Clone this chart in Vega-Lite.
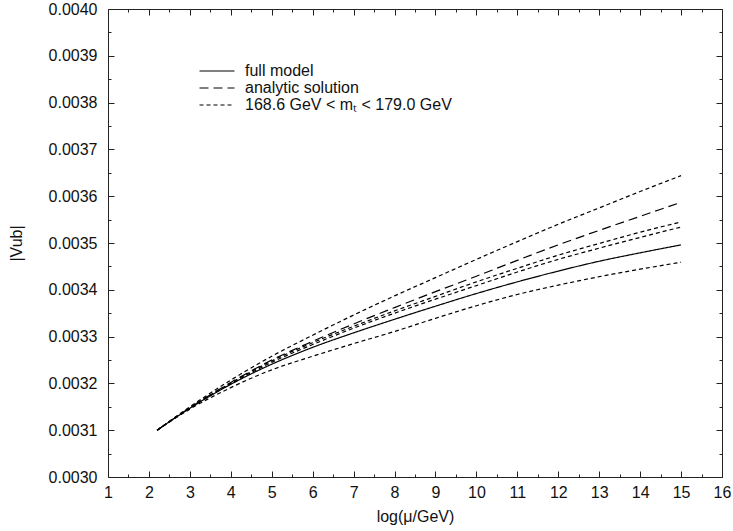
{
  "$schema": "https://vega.github.io/schema/vega-lite/v6.json",
  "width": 614,
  "height": 468,
  "autosize": {"type": "none"},
  "padding": {"left": 108, "top": 9, "right": 11, "bottom": 54},
  "background": "white",
  "config": {
    "view": {"stroke": "#222", "strokeWidth": 1},
    "font": "Liberation Sans",
    "axis": {"domain": false, "grid": false, "tickColor": "#222", "labelColor": "#111", "titleColor": "#111", "labelFont": "Liberation Sans", "titleFont": "Liberation Sans", "labelFontSize": 16, "titleFontSize": 16, "titleFontWeight": "normal", "tickWidth": 1}
  },
  "data": {"values": [
    {"c": "full", "t": "full model", "x": 2.2, "y": 0.003100},
    {"c": "full", "t": "full model", "x": 3, "y": 0.003147},
    {"c": "full", "t": "full model", "x": 4, "y": 0.003198},
    {"c": "full", "t": "full model", "x": 5, "y": 0.003241},
    {"c": "full", "t": "full model", "x": 6, "y": 0.003277},
    {"c": "full", "t": "full model", "x": 7, "y": 0.003308},
    {"c": "full", "t": "full model", "x": 8, "y": 0.003337},
    {"c": "full", "t": "full model", "x": 9, "y": 0.003365},
    {"c": "full", "t": "full model", "x": 10, "y": 0.003392},
    {"c": "full", "t": "full model", "x": 11, "y": 0.003417},
    {"c": "full", "t": "full model", "x": 12, "y": 0.003440},
    {"c": "full", "t": "full model", "x": 13, "y": 0.003461},
    {"c": "full", "t": "full model", "x": 14, "y": 0.003479},
    {"c": "full", "t": "full model", "x": 15, "y": 0.003496},
    {"c": "ana", "t": "analytic solution", "x": 2.2, "y": 0.003100},
    {"c": "ana", "t": "analytic solution", "x": 3, "y": 0.003148},
    {"c": "ana", "t": "analytic solution", "x": 4, "y": 0.003202},
    {"c": "ana", "t": "analytic solution", "x": 5, "y": 0.003250},
    {"c": "ana", "t": "analytic solution", "x": 6, "y": 0.003290},
    {"c": "ana", "t": "analytic solution", "x": 7, "y": 0.003327},
    {"c": "ana", "t": "analytic solution", "x": 8, "y": 0.003362},
    {"c": "ana", "t": "analytic solution", "x": 9, "y": 0.003396},
    {"c": "ana", "t": "analytic solution", "x": 10, "y": 0.003429},
    {"c": "ana", "t": "analytic solution", "x": 11, "y": 0.003463},
    {"c": "ana", "t": "analytic solution", "x": 12, "y": 0.003496},
    {"c": "ana", "t": "analytic solution", "x": 13, "y": 0.003527},
    {"c": "ana", "t": "analytic solution", "x": 14, "y": 0.003557},
    {"c": "ana", "t": "analytic solution", "x": 15, "y": 0.003587},
    {"c": "top", "t": "168.6 GeV < mₜ < 179.0 GeV", "x": 2.2, "y": 0.003100},
    {"c": "top", "t": "168.6 GeV < mₜ < 179.0 GeV", "x": 3, "y": 0.003150},
    {"c": "top", "t": "168.6 GeV < mₜ < 179.0 GeV", "x": 4, "y": 0.003207},
    {"c": "top", "t": "168.6 GeV < mₜ < 179.0 GeV", "x": 5, "y": 0.003258},
    {"c": "top", "t": "168.6 GeV < mₜ < 179.0 GeV", "x": 6, "y": 0.003303},
    {"c": "top", "t": "168.6 GeV < mₜ < 179.0 GeV", "x": 7, "y": 0.003346},
    {"c": "top", "t": "168.6 GeV < mₜ < 179.0 GeV", "x": 8, "y": 0.003387},
    {"c": "top", "t": "168.6 GeV < mₜ < 179.0 GeV", "x": 9, "y": 0.003426},
    {"c": "top", "t": "168.6 GeV < mₜ < 179.0 GeV", "x": 10, "y": 0.003465},
    {"c": "top", "t": "168.6 GeV < mₜ < 179.0 GeV", "x": 11, "y": 0.003503},
    {"c": "top", "t": "168.6 GeV < mₜ < 179.0 GeV", "x": 12, "y": 0.003540},
    {"c": "top", "t": "168.6 GeV < mₜ < 179.0 GeV", "x": 13, "y": 0.003575},
    {"c": "top", "t": "168.6 GeV < mₜ < 179.0 GeV", "x": 14, "y": 0.003610},
    {"c": "top", "t": "168.6 GeV < mₜ < 179.0 GeV", "x": 15, "y": 0.003644},
    {"c": "mid1", "t": "168.6 GeV < mₜ < 179.0 GeV", "x": 2.2, "y": 0.003100},
    {"c": "mid1", "t": "168.6 GeV < mₜ < 179.0 GeV", "x": 3, "y": 0.003148},
    {"c": "mid1", "t": "168.6 GeV < mₜ < 179.0 GeV", "x": 4, "y": 0.003201},
    {"c": "mid1", "t": "168.6 GeV < mₜ < 179.0 GeV", "x": 5, "y": 0.003248},
    {"c": "mid1", "t": "168.6 GeV < mₜ < 179.0 GeV", "x": 6, "y": 0.003287},
    {"c": "mid1", "t": "168.6 GeV < mₜ < 179.0 GeV", "x": 7, "y": 0.003322},
    {"c": "mid1", "t": "168.6 GeV < mₜ < 179.0 GeV", "x": 8, "y": 0.003355},
    {"c": "mid1", "t": "168.6 GeV < mₜ < 179.0 GeV", "x": 9, "y": 0.003386},
    {"c": "mid1", "t": "168.6 GeV < mₜ < 179.0 GeV", "x": 10, "y": 0.003417},
    {"c": "mid1", "t": "168.6 GeV < mₜ < 179.0 GeV", "x": 11, "y": 0.003446},
    {"c": "mid1", "t": "168.6 GeV < mₜ < 179.0 GeV", "x": 12, "y": 0.003474},
    {"c": "mid1", "t": "168.6 GeV < mₜ < 179.0 GeV", "x": 13, "y": 0.003499},
    {"c": "mid1", "t": "168.6 GeV < mₜ < 179.0 GeV", "x": 14, "y": 0.003523},
    {"c": "mid1", "t": "168.6 GeV < mₜ < 179.0 GeV", "x": 15, "y": 0.003545},
    {"c": "mid2", "t": "168.6 GeV < mₜ < 179.0 GeV", "x": 2.2, "y": 0.003100},
    {"c": "mid2", "t": "168.6 GeV < mₜ < 179.0 GeV", "x": 3, "y": 0.003147},
    {"c": "mid2", "t": "168.6 GeV < mₜ < 179.0 GeV", "x": 4, "y": 0.003199},
    {"c": "mid2", "t": "168.6 GeV < mₜ < 179.0 GeV", "x": 5, "y": 0.003245},
    {"c": "mid2", "t": "168.6 GeV < mₜ < 179.0 GeV", "x": 6, "y": 0.003283},
    {"c": "mid2", "t": "168.6 GeV < mₜ < 179.0 GeV", "x": 7, "y": 0.003318},
    {"c": "mid2", "t": "168.6 GeV < mₜ < 179.0 GeV", "x": 8, "y": 0.003350},
    {"c": "mid2", "t": "168.6 GeV < mₜ < 179.0 GeV", "x": 9, "y": 0.003380},
    {"c": "mid2", "t": "168.6 GeV < mₜ < 179.0 GeV", "x": 10, "y": 0.003409},
    {"c": "mid2", "t": "168.6 GeV < mₜ < 179.0 GeV", "x": 11, "y": 0.003438},
    {"c": "mid2", "t": "168.6 GeV < mₜ < 179.0 GeV", "x": 12, "y": 0.003465},
    {"c": "mid2", "t": "168.6 GeV < mₜ < 179.0 GeV", "x": 13, "y": 0.003489},
    {"c": "mid2", "t": "168.6 GeV < mₜ < 179.0 GeV", "x": 14, "y": 0.003512},
    {"c": "mid2", "t": "168.6 GeV < mₜ < 179.0 GeV", "x": 15, "y": 0.003534},
    {"c": "bot", "t": "168.6 GeV < mₜ < 179.0 GeV", "x": 2.2, "y": 0.003100},
    {"c": "bot", "t": "168.6 GeV < mₜ < 179.0 GeV", "x": 3, "y": 0.003145},
    {"c": "bot", "t": "168.6 GeV < mₜ < 179.0 GeV", "x": 4, "y": 0.003191},
    {"c": "bot", "t": "168.6 GeV < mₜ < 179.0 GeV", "x": 5, "y": 0.003229},
    {"c": "bot", "t": "168.6 GeV < mₜ < 179.0 GeV", "x": 6, "y": 0.003258},
    {"c": "bot", "t": "168.6 GeV < mₜ < 179.0 GeV", "x": 7, "y": 0.003285},
    {"c": "bot", "t": "168.6 GeV < mₜ < 179.0 GeV", "x": 8, "y": 0.003311},
    {"c": "bot", "t": "168.6 GeV < mₜ < 179.0 GeV", "x": 9, "y": 0.003339},
    {"c": "bot", "t": "168.6 GeV < mₜ < 179.0 GeV", "x": 10, "y": 0.003366},
    {"c": "bot", "t": "168.6 GeV < mₜ < 179.0 GeV", "x": 11, "y": 0.003390},
    {"c": "bot", "t": "168.6 GeV < mₜ < 179.0 GeV", "x": 12, "y": 0.003410},
    {"c": "bot", "t": "168.6 GeV < mₜ < 179.0 GeV", "x": 13, "y": 0.003428},
    {"c": "bot", "t": "168.6 GeV < mₜ < 179.0 GeV", "x": 14, "y": 0.003444},
    {"c": "bot", "t": "168.6 GeV < mₜ < 179.0 GeV", "x": 15, "y": 0.003459}
  ]},
  "resolve": {"axis": {"x": "independent", "y": "independent"}},
  "layer": [
    {
      "mark": {"type": "line", "color": "black", "strokeWidth": 1.2, "interpolate": "monotone"},
      "encoding": {
        "x": {"field": "x", "type": "quantitative", "scale": {"domain": [1, 16], "nice": false, "zero": false},
              "axis": {"orient": "bottom", "values": [1,2,3,4,5,6,7,8,9,10,11,12,13,14,15,16], "tickSize": -6, "labelPadding": 13, "title": "log(μ/GeV)", "titlePadding": 8, "labelFlush": false}},
        "y": {"field": "y", "type": "quantitative", "scale": {"domain": [0.003, 0.004], "nice": false, "zero": false},
              "axis": {"orient": "left", "values": [0.003,0.0031,0.0032,0.0033,0.0034,0.0035,0.0036,0.0037,0.0038,0.0039,0.004], "format": ".4f", "tickSize": -6, "labelPadding": 17, "title": "|Vub|", "titlePadding": 24, "labelFlush": false}},
        "strokeDash": {"field": "t", "type": "nominal",
          "scale": {"domain": ["full model", "analytic solution", "168.6 GeV < mₜ < 179.0 GeV"], "range": [[1, 0], [9, 5], [4, 3]]},
          "legend": {"orient": "none", "legendX": 101, "legendY": 54, "title": null, "symbolType": "M-3.5,0H3.5", "symbolSize": 100, "symbolFillColor": "transparent", "symbolStrokeColor": "black", "symbolStrokeWidth": 1.2, "labelFontSize": 16, "labelFont": "Liberation Sans", "labelColor": "#111", "labelOffset": 20, "labelLimit": 500, "rowPadding": 1}},
        "detail": {"field": "c", "type": "nominal"}
      }
    },
    {
      "mark": {"type": "point", "opacity": 0},
      "encoding": {
        "x": {"field": "x", "type": "quantitative", "axis": {"orient": "top", "values": [1,2,3,4,5,6,7,8,9,10,11,12,13,14,15,16], "tickSize": -6, "labels": false, "title": null}},
        "y": {"field": "y", "type": "quantitative", "axis": {"orient": "right", "values": [0.003,0.0031,0.0032,0.0033,0.0034,0.0035,0.0036,0.0037,0.0038,0.0039,0.004], "tickSize": -6, "labels": false, "title": null}}
      }
    },
    {
      "mark": {"type": "point", "opacity": 0},
      "encoding": {
        "x": {"field": "x", "type": "quantitative", "axis": {"orient": "bottom", "values": [1.5,2.5,3.5,4.5,5.5,6.5,7.5,8.5,9.5,10.5,11.5,12.5,13.5,14.5,15.5], "tickSize": -3, "labels": false, "title": null}},
        "y": {"field": "y", "type": "quantitative", "axis": {"orient": "left", "values": [0.00305,0.00315,0.00325,0.00335,0.00345,0.00355,0.00365,0.00375,0.00385,0.00395], "tickSize": -3, "labels": false, "title": null}}
      }
    },
    {
      "mark": {"type": "point", "opacity": 0},
      "encoding": {
        "x": {"field": "x", "type": "quantitative", "axis": {"orient": "top", "values": [1.5,2.5,3.5,4.5,5.5,6.5,7.5,8.5,9.5,10.5,11.5,12.5,13.5,14.5,15.5], "tickSize": -3, "labels": false, "title": null}},
        "y": {"field": "y", "type": "quantitative", "axis": {"orient": "right", "values": [0.00305,0.00315,0.00325,0.00335,0.00345,0.00355,0.00365,0.00375,0.00385,0.00395], "tickSize": -3, "labels": false, "title": null}}
      }
    }
  ]
}
